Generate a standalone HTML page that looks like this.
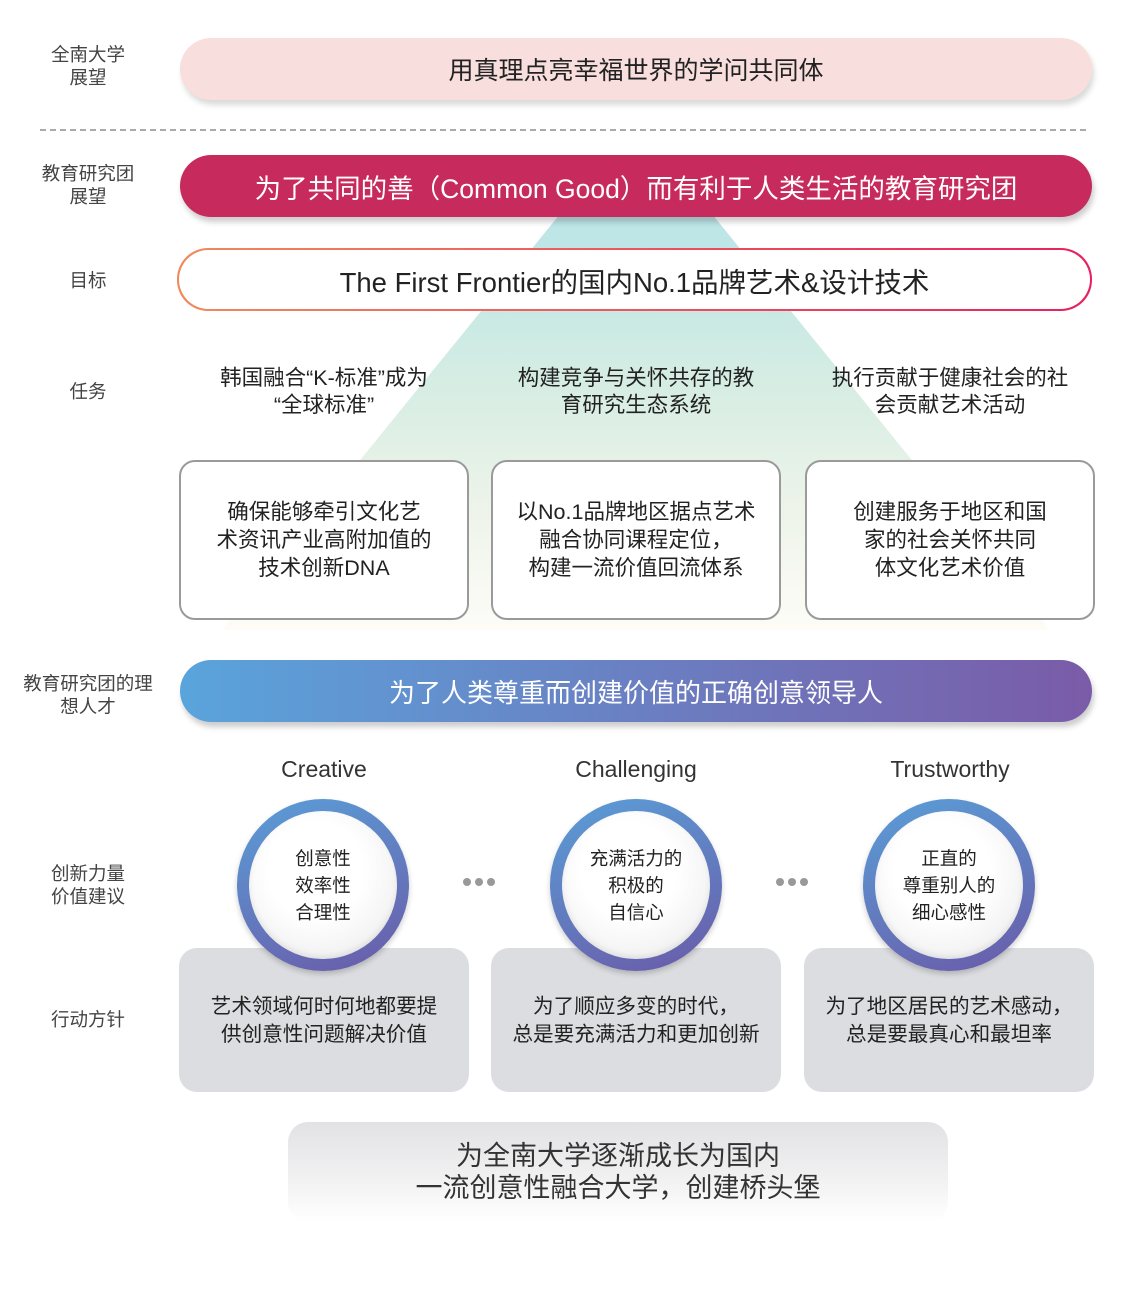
<!DOCTYPE html>
<html><head><meta charset="utf-8"><style>
*{margin:0;padding:0;box-sizing:border-box}
body{width:1126px;height:1298px;background:#fff;position:relative;overflow:hidden;font-family:"Liberation Sans","Noto Sans CJK SC",sans-serif;color:#222}
.a{position:absolute}
.lbl{position:absolute;left:0;width:176px;text-align:center;font-size:18.5px;color:#444;line-height:23px}
.pill{position:absolute;left:180px;width:912px;height:62px;border-radius:31px;display:flex;align-items:center;justify-content:center}
.box{position:absolute;top:460px;width:290px;height:160px;border:2px solid #9a9a9a;border-radius:16px;background:#fff;display:flex;align-items:center;justify-content:center;text-align:center;font-size:21.5px;line-height:28px;color:#222}
.task{position:absolute;top:365px;width:290px;text-align:center;font-size:21.5px;line-height:27px}
.eng{position:absolute;top:756px;width:290px;text-align:center;font-size:23px;color:#333}
.gbox{position:absolute;top:948px;width:290px;height:144px;border-radius:18px;background:#dcdde0;text-align:center;font-size:20.6px;line-height:28px;padding-top:45px}
.circ{position:absolute;top:799px;width:172px;height:172px;border-radius:50%;background:linear-gradient(160deg,#5a9fd8,#6a5aa8);box-shadow:0 3px 6px rgba(0,0,0,.2)}
.circ div{position:absolute;left:12px;top:12px;width:148px;height:148px;border-radius:50%;background:radial-gradient(circle at 45% 40%,#fff 40%,#e8e8ea 100%);display:flex;align-items:center;justify-content:center;text-align:center;font-size:18.5px;line-height:27px;box-shadow:inset 0 -3px 6px rgba(0,0,0,.08)}
.dots{position:absolute;top:878px;width:36px;height:8px}
.dots i{float:left;width:8px;height:8px;border-radius:50%;background:#999;margin-right:4px}
</style></head><body>
<div class="lbl" style="top:43px">全南大学<br>展望</div>
<div class="lbl" style="top:162px">教育研究团<br>展望</div>
<div class="lbl" style="top:269px">目标</div>
<div class="lbl" style="top:380px">任务</div>
<div class="lbl" style="top:672px">教育研究团的理<br>想人才</div>
<div class="lbl" style="top:862px">创新力量<br>价值建议</div>
<div class="lbl" style="top:1008px">行动方针</div>

<div class="pill" style="top:38px;background:#f8dedd;box-shadow:2px 5px 6px rgba(0,0,0,.15);font-size:25px;color:#222">用真理点亮幸福世界的学问共同体</div>
<div class="a" style="left:40px;top:129px;width:1046px;border-top:2px dashed #aaa"></div>

<div class="a" style="left:0;top:0;width:1126px;height:640px;clip-path:polygon(560px 214px,712px 214px,1050px 630px,222px 630px);background:linear-gradient(180deg,#b3dfea 0%,#bfe6e6 40%,#d6ede3 60%,#eef4ea 80%,#fdfcf7 98%,#fff 100%)"></div>

<div class="pill" style="top:155px;background:#c72b5e;box-shadow:2px 5px 6px rgba(0,0,0,.2);font-size:26.5px;color:#fff">为了共同的善（Common Good）而有利于人类生活的教育研究团</div>
<div class="pill" style="top:248px;left:177px;width:915px;height:63px;background:linear-gradient(90deg,#f08a5d,#e8205f);padding:2px"><div style="width:100%;height:100%;border-radius:30px;background:#fff;display:flex;align-items:center;justify-content:center;font-size:27.5px;color:#222">The First Frontier的国内No.1品牌艺术&amp;设计技术</div></div>

<div class="task" style="left:179px">韩国融合“K-标准”成为<br>“全球标准”</div>
<div class="task" style="left:491px">构建竞争与关怀共存的教<br>育研究生态系统</div>
<div class="task" style="left:805px">执行贡献于健康社会的社<br>会贡献艺术活动</div>

<div class="box" style="left:179px">确保能够牵引文化艺<br>术资讯产业高附加值的<br>技术创新DNA</div>
<div class="box" style="left:491px">以No.1品牌地区据点艺术<br>融合协同课程定位，<br>构建一流价值回流体系</div>
<div class="box" style="left:805px">创建服务于地区和国<br>家的社会关怀共同<br>体文化艺术价值</div>

<div class="pill" style="top:660px;background:linear-gradient(90deg,#5aa4dc,#7a5ba8);box-shadow:2px 5px 6px rgba(0,0,0,.2);font-size:26px;color:#fff">为了人类尊重而创建价值的正确创意领导人</div>

<div class="eng" style="left:179px">Creative</div>
<div class="eng" style="left:491px">Challenging</div>
<div class="eng" style="left:805px">Trustworthy</div>

<div class="gbox" style="left:179px">艺术领域何时何地都要提<br>供创意性问题解决价值</div>
<div class="gbox" style="left:491px">为了顺应多变的时代，<br>总是要充满活力和更加创新</div>
<div class="gbox" style="left:804px">为了地区居民的艺术感动，<br>总是要最真心和最坦率</div>

<div class="circ" style="left:237px"><div>创意性<br>效率性<br>合理性</div></div>
<div class="circ" style="left:550px"><div>充满活力的<br>积极的<br>自信心</div></div>
<div class="circ" style="left:863px"><div>正直的<br>尊重别人的<br>细心感性</div></div>
<div class="dots" style="left:463px"><i></i><i></i><i></i></div>
<div class="dots" style="left:776px"><i></i><i></i><i></i></div>

<div class="a" style="left:288px;top:1122px;width:660px;height:100px;border-radius:20px;background:linear-gradient(180deg,#e2e2e4 0%,#f2f2f3 60%,#fff 100%);text-align:center;font-size:27px;line-height:32px;padding-top:18px;color:#333">为全南大学逐渐成长为国内<br>一流创意性融合大学，创建桥头堡</div>
</body></html>
